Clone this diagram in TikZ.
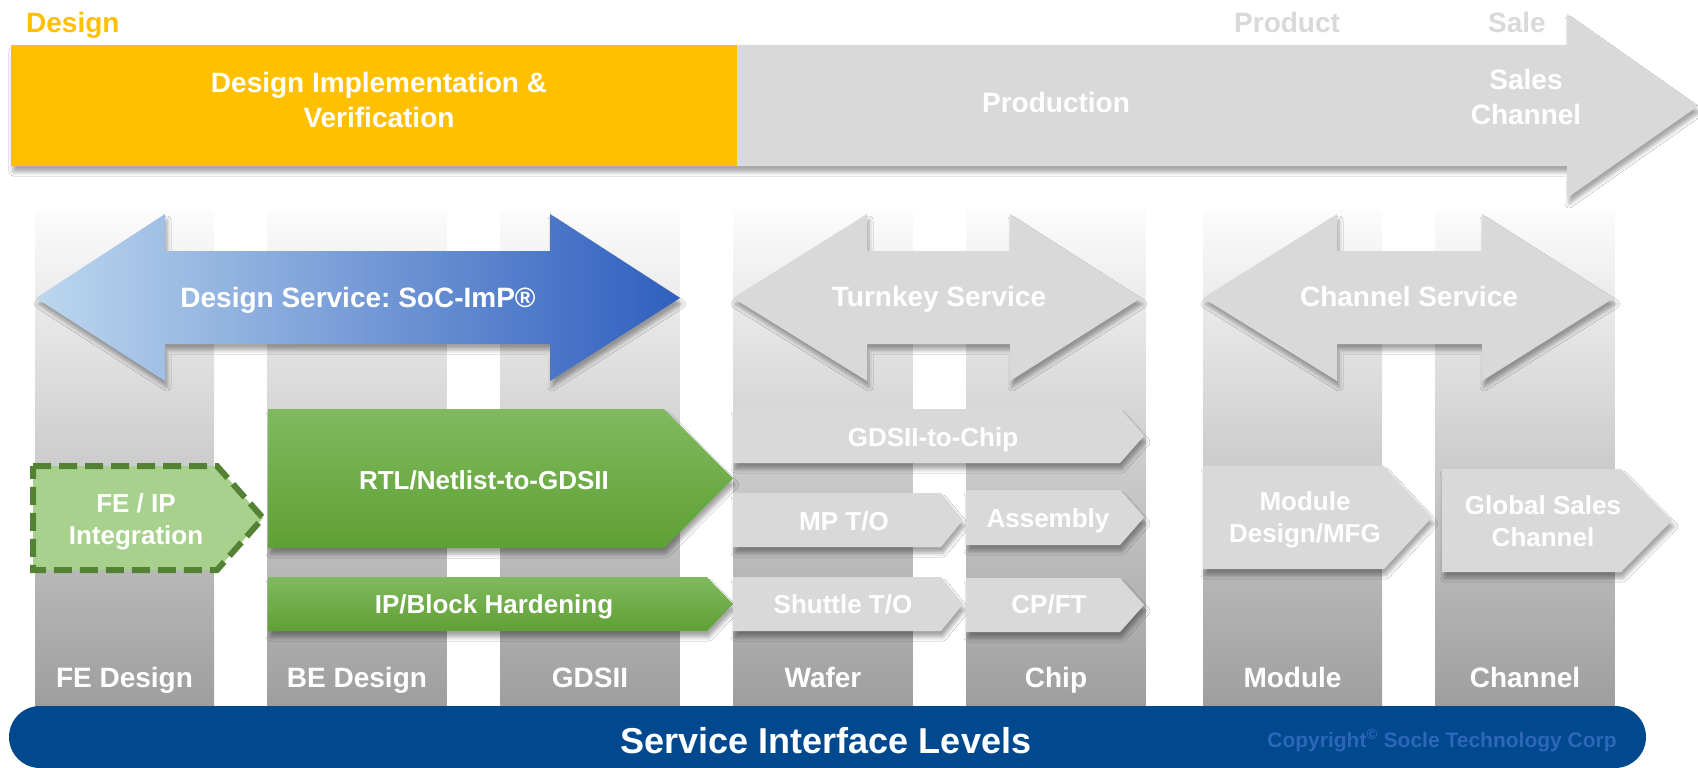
\documentclass[tikz,border=0pt]{standalone}
\usepackage{fontspec}
\setmainfont{Liberation Sans}
\frenchspacing
\usetikzlibrary{shadows.blur}
\definecolor{dsYellow}{HTML}{FFC000}
\definecolor{dsGray}{HTML}{D9D9D9}
\definecolor{barBlue}{HTML}{00498F}
\definecolor{lightBlue}{HTML}{BDD7EE}
\definecolor{midBlue}{HTML}{4F7FD0}
\definecolor{deepBlue}{HTML}{2F5FBF}
\definecolor{feGreen}{HTML}{A9D18E}
\definecolor{darkGreen}{HTML}{548235}
\definecolor{greenTop}{HTML}{80BA5F}
\definecolor{greenBot}{HTML}{5FA033}
\definecolor{copyBlue}{HTML}{2F67B8}
\definecolor{colTop}{HTML}{FCFCFC}
\definecolor{colMid}{HTML}{DCDCDC}
\definecolor{colBot}{HTML}{9E9E9E}

\begin{document}
\begin{tikzpicture}[x=1pt, y=-1pt,
  big/.style={text=white, font=\bfseries\fontsize{28}{35}\selectfont, align=center, inner sep=0pt},
  boxtext/.style={text=white, font=\bfseries\fontsize{26}{32}\selectfont, align=center, inner sep=0pt},
  boxshadow/.style={blur shadow={shadow xshift=2pt, shadow yshift=-6pt, shadow blur radius=4pt, shadow opacity=35}},
  graybox/.style={fill=dsGray, boxshadow},
  greenbox/.style={top color=greenTop, bottom color=greenBot, boxshadow},
  column/.style={top color=colTop, middle color=colMid, bottom color=colBot}]
\fill[white] (0,0) rectangle (1698,768);
\useasboundingbox (0,0) rectangle (1698,768);

\foreach \cx/\lab/\nm in {124.5/FE Design/fe, 357/BE Design/be, 590/GDSII/gds, 823/Wafer/wafer, 1056/Chip/chip, 1292.5/Module/module, 1525/Channel/channel}{
  \shade[column] (\cx-89.5,210) rectangle (\cx+89.5,706);
  \node[big, anchor=base] (lvl-\nm) at (\cx,687) {\lab};
}

\fill[dsGray, boxshadow] (11,45) -- (1567,45) -- (1567,14) -- (1698,106) -- (1567,198) -- (1567,166) -- (11,166) -- cycle;
\fill[dsYellow] (11,45) rectangle (737,166);
\node[big, text=dsYellow, anchor=base west] (design) at (26,33) {Design};
\node[big, text=dsGray, anchor=base west] (product) at (1234,33) {Product};
\node[big, text=dsGray, anchor=base west] (sale) at (1488,33) {Sale};
\node[big] (implement) at (379,100) {Design Implementation \&\\Verification};
\node[big, anchor=base] (production) at (1056,113) {Production};
\node[big] (saleschannel) at (1526,97) {Sales\\Channel};

\shade[left color=lightBlue, middle color=midBlue, right color=deepBlue, boxshadow] (36,298) -- (165,214) -- (165,251) -- (550,251) -- (550,214) -- (680,298) -- (550,381) -- (550,344) -- (165,344) -- (165,381) -- cycle;
\node[big, anchor=base] (designsvc) at (358,307) {Design Service: SoC-ImP®};
\fill[graybox] (733,298) -- (867,214) -- (867,251) -- (1010,251) -- (1010,214) -- (1141,298) -- (1010,381) -- (1010,344) -- (867,344) -- (867,381) -- cycle;
\node[big, anchor=base] (turnkey) at (939,306) {Turnkey Service};
\fill[graybox] (1203,298) -- (1337,214) -- (1337,251) -- (1482,251) -- (1482,214) -- (1614,298) -- (1482,381) -- (1482,344) -- (1337,344) -- (1337,381) -- cycle;
\node[big, anchor=base] (channelsvc) at (1409,306) {Channel Service};

\draw[fill=feGreen, draw=darkGreen, line width=6pt, dash pattern=on 18pt off 8pt] (33,466) -- (217,466) -- (263,518) -- (217,570) -- (33,570) -- cycle;
\node[boxtext] (feip) at (136,522) {FE / IP\\Integration};
\shade[greenbox] (268,409) -- (664,409) -- (733,478.5) -- (664,548) -- (268,548) -- cycle;
\node[boxtext, anchor=base] (rtl) at (484,489) {RTL/Netlist-to-GDSII};
\shade[greenbox] (268,577) -- (707,577) -- (733,604) -- (707,631) -- (268,631) -- cycle;
\node[boxtext, anchor=base] (ipblock) at (494,613) {IP/Block Hardening};

\fill[graybox] (733,409) -- (1120,409) -- (1144,436) -- (1120,463) -- (733,463) -- cycle;
\node[boxtext, anchor=base] (gds2chip) at (933,446) {GDSII-to-Chip};
\fill[graybox] (733,493) -- (941,493) -- (963,520) -- (941,547) -- (733,547) -- cycle;
\node[boxtext, anchor=base] (mpto) at (844,530) {MP T/O};
\fill[graybox] (966,490) -- (1120,490) -- (1144,517.5) -- (1120,545) -- (966,545) -- cycle;
\node[boxtext, anchor=base] (assembly) at (1048,527) {Assembly};
\fill[graybox] (733,577) -- (941,577) -- (963,604) -- (941,631) -- (733,631) -- cycle;
\node[boxtext, anchor=base] (shuttle) at (843,613) {Shuttle T/O};
\fill[graybox] (966,578) -- (1120,578) -- (1144,605) -- (1120,632) -- (966,632) -- cycle;
\node[boxtext, anchor=base] (cpft) at (1049,613) {CP/FT};
\fill[graybox] (1203,466) -- (1384,466) -- (1432,517.5) -- (1384,569) -- (1203,569) -- cycle;
\node[boxtext] (moduledes) at (1305,520) {Module\\Design/MFG};
\fill[graybox] (1442,469) -- (1621,469) -- (1672,520.5) -- (1621,572) -- (1442,572) -- cycle;
\node[boxtext] (globalsales) at (1543,521.5) {Global Sales\\Channel};

\fill[barBlue, rounded corners=31pt] (9,706) rectangle (1646,768);
\node[text=white, font=\bfseries\fontsize{36}{40}\selectfont, anchor=base] (levels) at (826,753) {Service Interface Levels};
\node[text=copyBlue, font=\bfseries\fontsize{21}{24}\selectfont, anchor=base] (copyright) at (1442,747) {Copyright\textsuperscript{©} Socle Technology Corp};
\end{tikzpicture}
\end{document}
